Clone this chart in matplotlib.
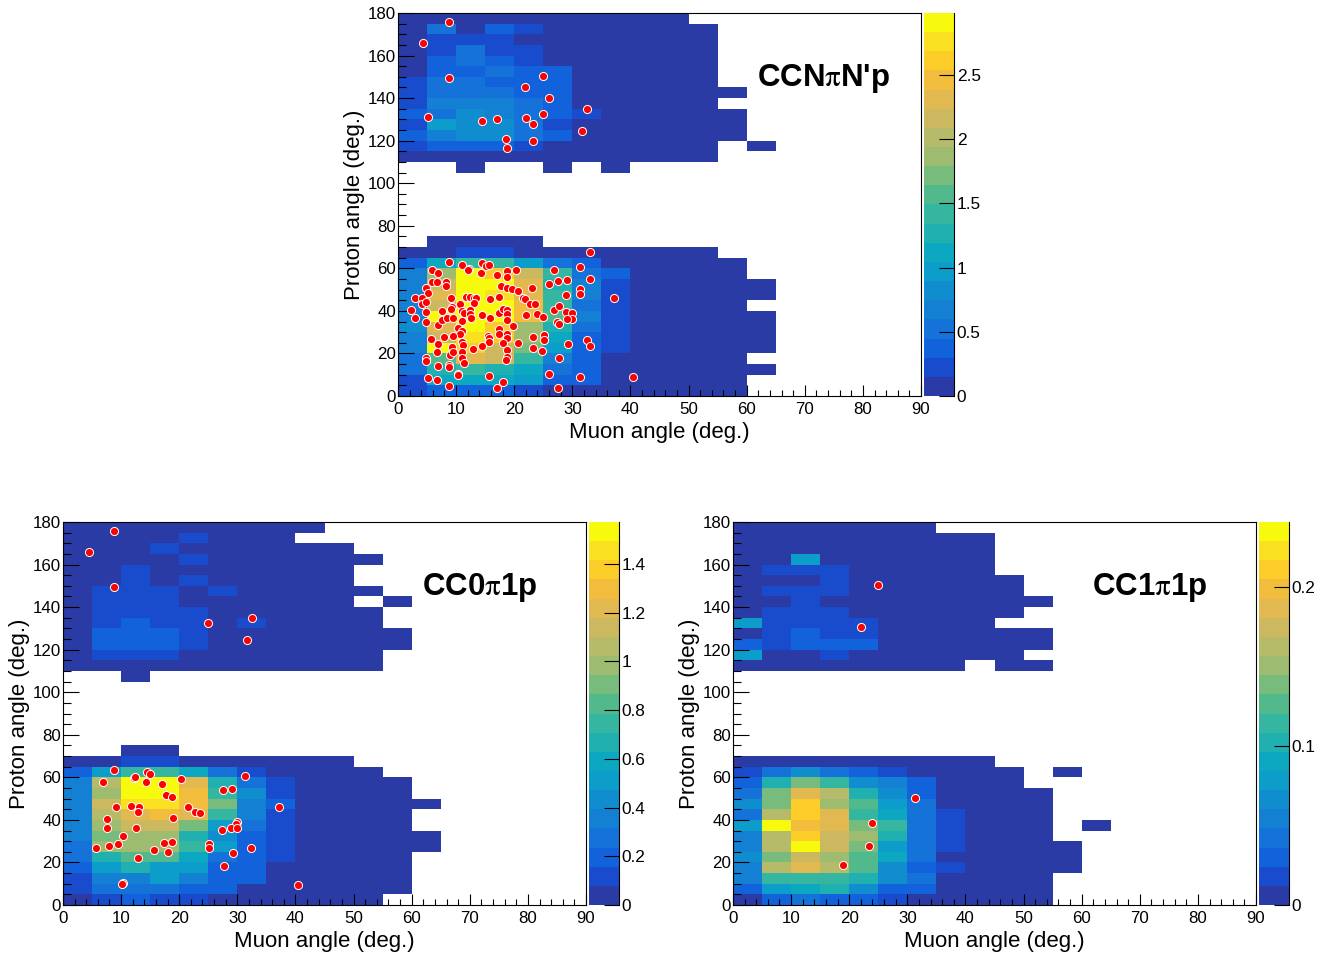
import numpy as np
import matplotlib
matplotlib.use('Agg')
import matplotlib.pyplot as plt
from matplotlib.colors import ListedColormap, BoundaryNorm
from matplotlib.ticker import MultipleLocator, FormatStrFormatter

plt.rcParams['font.family'] = ['Liberation Sans', 'DejaVu Sans']
plt.rcParams['mathtext.fontset'] = 'stix'

W, H = 1336, 957

# palette, bottom to top
palette = ['#2a3ba6', '#184ccc', '#1262dc', '#1472d8', '#1480d4',
           '#108dce', '#0c9dca', '#0ca8c2', '#20b0b0', '#34b6a0',
           '#52b98c', '#78bc7d', '#9dbc70', '#b5bb68', '#ccb95f',
           '#e1b950', '#f2bd3c', '#fccc28', '#f9e020', '#f8fa0d']

# colour bin of every histogram cell, -1 = empty
# rows run from 175-180 deg. down to 0-5 deg., columns from 0-5 deg. of muon angle
rows_top = [
    [0, 0, 0, 0, 0, 0, 0, 0, 0, 0],
    [0, 3, 0, 2, 1, 0, 0, 0, 0, 0, 0],
    [0, 1, 1, 1, 0, 0, 0, 0, 0, 0, 0],
    [0, 1, 3, 1, 1, 0, 0, 0, 0, 0, 0],
    [0, 2, 3, 2, 1, 0, 0, 0, 0, 0, 0],
    [0, 2, 2, 3, 2, 2, 0, 0, 0, 0, 0],
    [1, 3, 3, 2, 2, 2, 0, 0, 0, 0, 0],
    [1, 3, 3, 3, 2, 2, 0, 0, 0, 0, 0, 0],
    [1, 4, 4, 4, 3, 2, 0, 0, 0, 0, 0],
    [2, 3, 5, 4, 3, 2, 1, 0, 0, 0, 0, 0],
    [1, 6, 5, 5, 3, 1, 0, 0, 0, 0, 0, 0],
    [2, 4, 5, 5, 3, 2, 0, 0, 0, 0, 0, 0],
    [1, 2, 2, 2, 1, 0, 0, 0, 0, 0, 0, -1, 0],
    [0, 0, 0, 0, 0, 0, 0, 0, 0, 0, 0],
    [-1, -1, 0, -1, -1, 0, -1, 0],
    [], [], [], [], [], [],
    [-1, 0, 0, 0, 0],
    [0, 0, 1, 1, 0, 0, 0, 0, 0, 0, 0],
    [2, 7, 9, 9, 6, 3, 2, 0, 0, 0, 0, 0],
    [4, 12, 19, 17, 14, 9, 3, 2, 0, 0, 0, 0],
    [4, 14, 19, 19, 15, 8, 4, 1, 0, 0, 0, 0, 0],
    [4, 15, 19, 18, 15, 9, 4, 1, 0, 0, 0, 0, 0],
    [4, 14, 19, 19, 16, 9, 3, 1, 0, 0, 0, 0],
    [4, 19, 19, 19, 16, 10, 4, 1, 0, 0, 0, 0, 0],
    [5, 15, 19, 17, 12, 8, 3, 1, 0, 0, 0, 0, 0],
    [4, 14, 18, 17, 12, 7, 2, 1, 0, 0, 0, 0, 0],
    [4, 19, 17, 14, 11, 6, 2, 1, 0, 0, 0, 0, 0],
    [3, 10, 15, 14, 9, 4, 2, 0, 0, 0, 0, 0],
    [3, 8, 9, 8, 7, 3, 2, 0, 0, 0, 0, 0, 0],
    [1, 7, 7, 7, 6, 2, 2, 0, 0, 0, 0, 0],
    [1, 2, 2, 2, 1, 0, 0, 0, 0, 0, 0, 0],
]
rows_left = [
    [0, 0, 0, 0, 0, 0, 0, 0, 0],
    [0, 0, 0, 0, 1, 0, 0, 0],
    [0, 0, 0, 1, 0, 0, 0, 0, 0, 0],
    [0, 0, 0, 0, 1, 0, 0, 0, 0, 0, 0],
    [0, 0, 1, 0, 0, 0, 0, 0, 0, 0],
    [0, 0, 1, 0, 1, 0, 0, 0, 0, 0],
    [0, 1, 1, 1, 0, 1, 0, 0, 0, 0, 0],
    [0, 1, 1, 1, 0, 0, 0, 0, 0, 0, -1, 0],
    [0, 1, 1, 1, 1, 0, 0, 0, 0, 0, 0],
    [0, 1, 2, 1, 1, 0, 1, 0, 0, 0, 0],
    [0, 2, 2, 2, 1, 0, 0, 0, 0, 0, 0, 0],
    [0, 2, 2, 2, 1, 0, 0, 0, 0, 0, 0, 0],
    [0, 1, 1, 1, 0, 0, 0, 0, 0, 0, 0],
    [0, 0, 0, 0, 0, 0, 0, 0, 0, 0, 0],
    [-1, -1, 0],
    [], [], [], [], [], [],
    [-1, -1, 0, 0],
    [0, 0, 1, 1, 0, 0, 0, 0, 0, 0],
    [2, 6, 9, 9, 7, 3, 1, 0, 0, 0, 0],
    [4, 13, 19, 19, 15, 8, 3, 1, 0, 0, 0, 0],
    [4, 12, 19, 19, 16, 9, 5, 1, 0, 0, 0, 0],
    [4, 14, 18, 18, 16, 11, 4, 2, 0, 0, 0, 0, 0],
    [4, 13, 15, 16, 15, 9, 4, 1, 0, 0, 0, 0],
    [4, 12, 14, 14, 11, 6, 3, 1, 0, 0, 0, 0],
    [4, 11, 12, 12, 8, 5, 2, 1, 0, 0, 0, 0, 0],
    [3, 12, 12, 12, 9, 6, 2, 1, 0, 0, 0, 0, 0],
    [3, 8, 10, 10, 7, 3, 2, 1, 0, 0, 0, 0],
    [2, 6, 8, 6, 6, 2, 2, 0, 0, 0, 0, 0],
    [1, 4, 4, 6, 4, 2, 2, 0, 0, 0, 0, 0],
    [1, 3, 3, 3, 2, 2, 0, 0, 0, 0, 0, 0],
    [0, 1, 2, 1, 1, 0, 0, 0, 0, 0, 0],
]
rows_right = [
    [0, 0, 0, 0, 0, 0, 0],
    [0, 0, 0, 0, 0, 0, 0, 0, 0],
    [0, 0, 0, 0, 0, 0, 0, 0, 0],
    [0, 0, 6, 0, 0, 0, 0, 0, 0],
    [0, 1, 1, 1, 0, 0, 0, 0, 0],
    [0, 0, 0, 1, 0, 0, 0, 0, 0, 0],
    [0, 1, 1, 1, 0, 0, 0, 0, 0, 0],
    [0, 0, 1, 0, 0, 0, 0, 0, 0, 0, 0],
    [0, 1, 1, 1, 0, 0, 0, 0, 0, 0],
    [6, 1, 1, 1, 1, 0, 0, 0, 0],
    [0, 1, 2, 1, 1, 0, 0, 0, 0, 0, 0],
    [2, 1, 2, 2, 2, 0, 0, 0, 0, 0, 0],
    [6, 0, 0, 1, 0, 0, 0, 0, 0, 0],
    [0, 0, 0, 0, 0, 0, 0, 0, -1, 0, 0],
    [],
    [], [], [], [], [], [], [],
    [0, 0, 0, 0, 0, 0, 0, 0, 0],
    [1, 3, 5, 3, 2, 1, 0, 0, 0, 0, -1, 0],
    [2, 8, 11, 9, 5, 4, 2, 0, 0, 0],
    [3, 11, 15, 13, 8, 5, 2, 0, 0, 0, 0],
    [5, 11, 17, 12, 10, 6, 3, 0, 0, 0, 0],
    [3, 13, 17, 15, 9, 7, 3, 1, 0, 0, 0],
    [6, 19, 16, 15, 11, 9, 3, 1, 0, 0, 0, -1, 0],
    [4, 13, 17, 14, 12, 8, 3, 1, 0, 0, 0],
    [4, 13, 19, 14, 11, 6, 3, 1, 0, 0, 0, 0],
    [5, 11, 14, 12, 10, 7, 3, 0, 0, 0, 0, 0],
    [4, 13, 15, 13, 10, 5, 2, 1, 0, 0, 0, 0],
    [4, 9, 9, 9, 8, 5, 3, 0, 0, 0, 0],
    [2, 6, 7, 8, 5, 2, 2, 0, 0, 0, 0],
    [0, 2, 3, 2, 2, 1, 0, 0, 0, 0, 0],
]

# data points (muon angle, proton angle)
x_top = [8.8, 4.3, 8.8, 25.0, 21.8, 26.0, 32.6, 5.1, 25.0, 22.1, 17.0, 14.4, 23.2, 31.7, 18.6, 23.2, 18.8,
         33.1, 8.7, 11.0, 14.5, 15.1, 15.6, 12.3, 12.1, 5.9, 6.8, 14.2, 17.0, 18.8, 18.8, 20.3, 26.9, 31.3, 33.1,
         27.6, 29.0, 25.9, 5.9, 6.7, 8.3, 8.3, 4.9, 5.1, 17.8, 18.7, 19.7, 20.7, 23.1, 31.3, 31.3, 28.9, 37.1,
         2.9, 4.1, 9.1, 11.7, 12.4, 13.0, 13.4, 15.8, 17.3, 21.5, 21.9, 22.8, 23.5, 4.1, 4.9, 13.0, 10.6,
         2.3, 2.9, 4.8, 7.6, 9.3, 9.1, 11.0, 11.4, 12.4, 12.4, 12.5, 14.4, 15.8, 17.3, 18.0, 18.8, 18.8, 18.8,
         22.0, 23.9, 24.9, 26.9, 27.7, 28.9, 29.9, 29.9, 29.0, 4.8, 6.9, 7.6, 8.4, 9.5, 11.0, 10.3, 11.0, 10.6,
         17.3, 17.3, 19.8, 27.3, 27.7, 18.8, 18.8, 8.0, 9.4, 15.5, 15.7, 15.7, 23.3, 25.1, 25.1, 5.7, 6.9,
         11.0, 11.1, 18.0, 20.7, 29.3, 32.5, 33.1, 23.2, 24.8, 14.4, 12.9, 6.7, 9.3, 8.9, 9.5, 11.0, 11.0, 11.4,
         18.8, 18.7, 18.6, 4.8, 4.8, 6.9, 8.8, 8.8, 27.7, 25.9, 10.4, 10.3, 5.1, 6.7, 15.7, 18.0, 31.3, 40.4,
         8.8, 17.0, 27.5]
y_top = [175.6, 165.7, 149.6, 150.2, 145.2, 140.1, 135.0, 131.0, 132.4, 130.6, 130.3, 129.2, 128.0, 124.5, 120.6, 119.7, 116.6,
         67.5, 63.1, 61.6, 62.4, 61.3, 61.6, 59.5, 59.2, 59.4, 57.7, 57.7, 56.9, 58.6, 55.9, 59.1, 59.4, 60.8, 55.1,
         54.0, 54.4, 52.6, 53.4, 53.7, 53.4, 51.9, 50.6, 48.3, 51.9, 50.9, 50.3, 49.4, 50.8, 50.3, 47.9, 47.6, 46.2,
         46.1, 46.1, 46.1, 46.5, 46.4, 45.9, 46.2, 45.6, 46.5, 45.9, 45.6, 43.4, 43.2, 43.2, 44.2, 43.6, 43.1,
         40.6, 36.8, 39.6, 40.1, 41.8, 40.9, 40.1, 39.0, 40.4, 38.4, 36.5, 38.1, 36.8, 38.9, 40.9, 40.4, 38.4, 35.7,
         37.9, 38.5, 37.3, 40.4, 42.3, 39.6, 38.9, 36.0, 36.3, 34.8, 33.4, 35.9, 36.5, 36.5, 35.2, 32.1, 30.6, 29.1,
         31.5, 29.0, 32.9, 34.9, 34.0, 29.3, 27.1, 27.7, 28.2, 28.2, 27.1, 25.5, 27.7, 28.8, 26.5, 26.8, 24.3,
         25.5, 24.0, 24.8, 25.1, 24.4, 26.5, 23.3, 22.7, 21.3, 23.3, 22.1, 20.7, 23.0, 19.3, 20.5, 20.5, 18.0, 15.4,
         21.6, 18.5, 16.9, 18.0, 16.5, 14.1, 14.6, 13.8, 18.0, 10.2, 10.2, 9.7, 8.6, 7.7, 9.4, 6.7, 8.8, 9.1,
         4.9, 3.9, 3.9]
x_left = [8.8, 4.4, 8.8, 25.0, 32.6, 31.7,
          8.7, 12.2, 12.4, 14.5, 15.0, 20.3, 31.3, 6.8, 14.2, 17.0, 27.6, 29.0, 17.8, 18.8, 9.2, 11.7, 13.1, 12.9,
          21.5, 22.8, 23.6, 37.1, 18.9, 7.6, 7.6, 12.5, 29.9, 29.7, 28.9, 29.9, 27.3, 10.3, 5.7, 8.0, 9.4, 17.3,
          18.8, 15.7, 18.1, 25.1, 25.1, 29.2, 32.4, 12.9, 27.7, 10.4, 10.2, 40.4]
y_left = [175.6, 165.7, 149.6, 132.7, 135.0, 124.5,
          63.3, 59.5, 60.0, 62.5, 61.4, 59.1, 60.8, 57.7, 57.7, 57.0, 54.0, 54.5, 51.7, 50.9, 46.2, 46.7, 46.1, 43.6,
          46.1, 43.6, 43.2, 46.2, 40.7, 40.3, 36.0, 36.2, 38.9, 37.9, 36.3, 36.0, 35.2, 32.3, 26.9, 27.9, 28.5, 29.1,
          29.5, 25.9, 24.8, 28.8, 26.9, 24.6, 26.6, 22.2, 18.2, 10.5, 9.7, 9.2]
x_right = [24.9, 22.1, 31.3, 24.0, 23.4, 19.0]
y_right = [150.3, 130.7, 50.3, 38.5, 27.7, 19.0]

x_edges = np.arange(0, 95, 5)
y_edges = np.arange(0, 185, 5)
cmap = ListedColormap(palette)
cmap.set_bad('white')


def px_axes(left, top, right, bottom):
    return fig.add_axes([left / W, 1 - bottom / H, (right - left) / W, (bottom - top) / H])


def grid_from_rows(rows, zmax):
    z = np.full((36, 18), np.nan)
    for i, row in enumerate(rows):
        for j, b in enumerate(row):
            if b >= 0:
                z[35 - i, j] = (b + 0.5) * zmax / 20
    return z


def draw_panel(left, top, rows, xs, ys, zmax, zstep, title):
    right = left + 523
    bottom = top + 383
    ax = px_axes(left, top, right, bottom)
    bounds = np.linspace(0, zmax, 21)
    norm = BoundaryNorm(bounds, 20)
    z = np.ma.masked_invalid(grid_from_rows(rows, zmax))
    ax.pcolormesh(x_edges, y_edges, z, cmap=cmap, norm=norm, zorder=1)
    ax.scatter(xs, ys, s=34, c='#ff0000', edgecolors='white', linewidths=0.7, zorder=4)

    ax.set_xlim(0, 90)
    ax.set_ylim(0, 180)
    ax.xaxis.set_major_locator(MultipleLocator(10))
    ax.xaxis.set_minor_locator(MultipleLocator(2))
    ax.yaxis.set_major_locator(MultipleLocator(20))
    ax.yaxis.set_minor_locator(MultipleLocator(5))
    ax.tick_params(axis='x', which='major', direction='in', length=8, width=0.8, labelsize=12.2, pad=4)
    ax.tick_params(axis='x', which='minor', direction='in', length=4, width=0.8)
    ax.tick_params(axis='y', which='major', direction='in', length=11.5, width=0.8, labelsize=12.2, pad=1.5)
    ax.tick_params(axis='y', which='minor', direction='in', length=5.8, width=0.8)
    for s in ax.spines.values():
        s.set_linewidth(0.8)
    ax.set_xlabel('Muon angle (deg.)', fontsize=16, labelpad=4)
    ax.set_ylabel('Proton angle (deg.)', fontsize=16, labelpad=2.2)
    ax.text(61.8, 145.7, title, fontsize=22.5, fontweight='bold', va='baseline', ha='left')

    cax = px_axes(right + 2.5, top, right + 33, bottom)
    sm = plt.cm.ScalarMappable(norm=norm, cmap=cmap)
    cb = fig.colorbar(sm, cax=cax, spacing='proportional', ticks=np.arange(0, zmax, zstep))
    cb.outline.set_visible(False)
    cb.ax.minorticks_off()
    cb.ax.yaxis.set_major_formatter(FormatStrFormatter('%g'))
    cb.ax.tick_params(axis='y', direction='in', length=11, width=0.8, labelsize=12.4, pad=2)
    cb.ax.spines['right'].set_visible(True)
    cb.ax.spines['right'].set_linewidth(0.8)
    return ax


fig = plt.figure(figsize=(W / 100, H / 100), dpi=100)

draw_panel(398, 13, rows_top, x_top, y_top, 2.983, 0.5, "CCN$\\mathrm{\\pi}$N'p")
draw_panel(63, 522, rows_left, x_left, y_left, 1.572, 0.2, 'CC0$\\mathrm{\\pi}$1p')
draw_panel(733, 522, rows_right, x_right, y_right, 0.2409, 0.1, 'CC1$\\mathrm{\\pi}$1p')

fig.savefig('out.png', dpi=100)
